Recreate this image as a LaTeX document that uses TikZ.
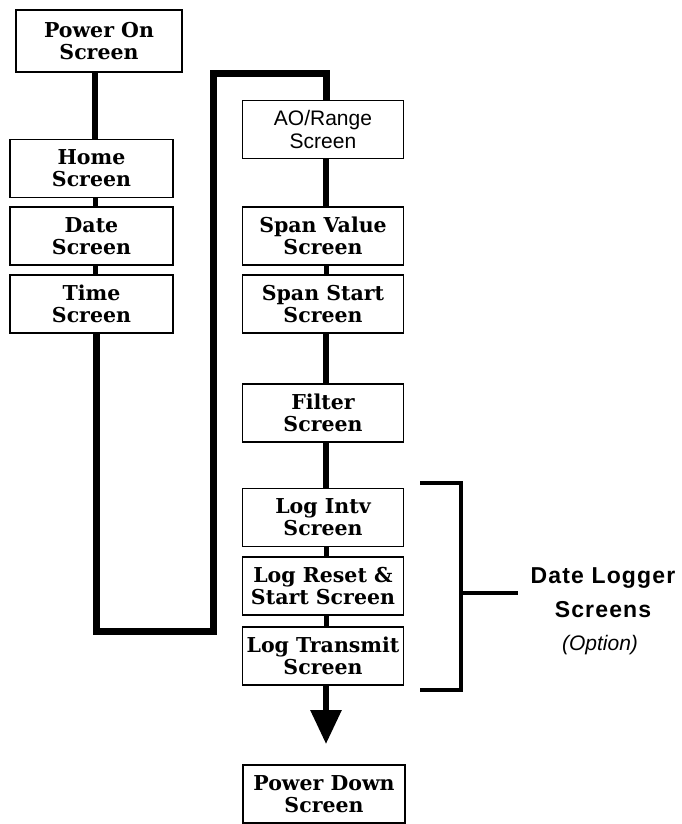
\documentclass[tikz,border=0pt]{standalone}
\usepackage{fontspec}
\setmainfont{DejaVu Serif}
\newfontfamily\boxfont{DejaVu Serif}
\newfontfamily\arialfont{Liberation Sans}
\newfontfamily\labelfont[LetterSpace=5]{Liberation Sans}
\usetikzlibrary{arrows.meta}
\begin{document}
\begin{tikzpicture}[x=1pt,y=-1pt,
  scr/.style={draw=black, line width=1.6pt, fill=white, inner sep=0pt,
    align=center, font=\boxfont\bfseries\fontsize{20.5}{22}\selectfont},
  lscr/.style={scr, minimum width=163pt, minimum height=58pt},
  rscr/.style={scr, minimum width=161pt, minimum height=58pt},
  link/.style={draw=black, line width=6pt},
  brk/.style={draw=black, line width=4pt}
]
\useasboundingbox[fill=white] (0,0) rectangle (682,824);

% left column
\node[scr, minimum width=166pt, minimum height=62pt] (pon) at (99,41) {Power On\\Screen};
\node[lscr] (home) at (91.5,168.5) {Home\\Screen};
\node[lscr] (date) at (91.5,236) {Date\\Screen};
\node[lscr] (time) at (91.5,304) {Time\\Screen};

% right column
\node[rscr, font=\arialfont\fontsize{21}{23}\selectfont] (ao) at (323,129.5) {AO/Range\\Screen};
\node[rscr] (sv) at (323,236) {Span Value\\Screen};
\node[rscr] (ss) at (323,304) {Span Start\\Screen};
\node[rscr] (filt) at (323,413) {Filter\\Screen};
\node[rscr] (li) at (323,517.5) {Log Intv\\Screen};
\node[rscr] (lr) at (323,586) {Log Reset \&\\Start Screen};
\node[rscr] (lt) at (323,656) {Log Transmit\\Screen};
\node[rscr, minimum width=162pt] (pd) at (324,794) {Power Down\\Screen};

% connectors left
\draw[link] (pon.south -| 95,0) -- (home.north -| 95,0);
\draw[link, line width=5pt] (home.south -| 95,0) -- (date.north -| 95,0);
\draw[link, line width=5pt] (date.south -| 95,0) -- (time.north -| 95,0);

% loop
\coordinate (l1) at (96,631);
\coordinate (l2) at (213,631);
\coordinate (l3) at (213,74);
\coordinate (l4) at (326,74);
\draw[link, line width=7pt] (time.south -| l1) -- (l1) -- (l2) -- (l3) -- (l4) -- (ao.north -| l4);

% connectors right
\draw[link] (ao.south -| 326,0) -- (sv.north -| 326,0);
\draw[link, line width=5pt] (sv.south -| 326,0) -- (ss.north -| 326,0);
\draw[link] (ss.south -| 326,0) -- (filt.north -| 326,0);
\draw[link] (filt.south -| 326,0) -- (li.north -| 326,0);
\draw[link, line width=5pt] (li.south -| 326,0) -- (lr.north -| 326,0);
\draw[link, line width=5pt] (lr.south -| 326,0) -- (lt.north -| 326,0);
\coordinate (tip) at (326,744);
\draw[link, -{Triangle[width=30pt,length=34pt]}] (lt.south -| 326,0) -- (tip);

% bracket
\coordinate (b1) at (420,483);
\coordinate (b2) at (461,483);
\coordinate (b3) at (461,690);
\coordinate (b4) at (420,690);
\coordinate (bm) at (461,593);
\draw[brk] (b1) -- (b2) -- (b3) -- (b4);
\node[font=\labelfont\bfseries\fontsize{23}{34}\selectfont, align=center, inner sep=0pt] (dl) at (603,593) {Date Logger\\Screens};
\draw[brk] (bm) -- (bm -| 518,0);
\node[font=\arialfont\itshape\fontsize{21}{23}\selectfont, inner sep=0pt] (opt) at (600,645) {(Option)};
\end{tikzpicture}
\end{document}
